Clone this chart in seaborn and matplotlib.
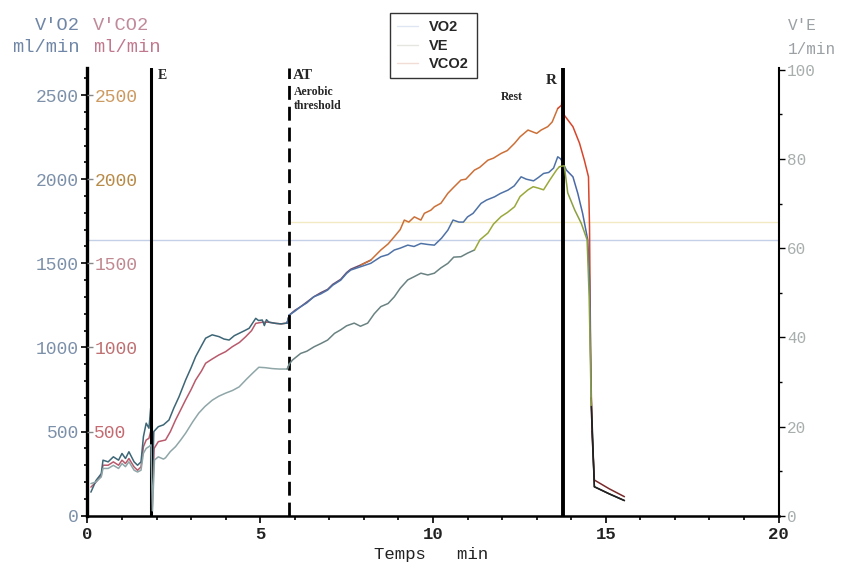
import numpy as np
import matplotlib
matplotlib.use("Agg")
import matplotlib.pyplot as plt
from matplotlib.lines import Line2D
from matplotlib.ticker import MultipleLocator
import seaborn as sns

sns.set_theme(style="white")
plt.rcParams['font.family'] = ['Liberation Mono', 'DejaVu Sans']

# ---- data ----
# time in minutes, VO2 / VCO2 in ml/min, VE in l/min
t_vo2 = [0.1, 0.25, 0.4, 0.45, 0.6, 0.75, 0.9, 1.0, 1.1, 1.2, 1.35, 1.45, 1.55, 1.62, 1.7, 1.78,
         1.83, 1.86, 1.92, 2.05, 2.2, 2.36, 2.5, 2.65, 2.84, 3.0, 3.13, 3.3, 3.42, 3.61, 3.81,
         3.95, 4.1, 4.25, 4.39, 4.55, 4.68, 4.87, 4.95, 5.06, 5.12, 5.18, 5.25, 5.45, 5.6, 5.78,
         5.84, 6.0, 6.17, 6.35, 6.55, 6.75, 6.95, 7.1, 7.33, 7.5, 7.62, 7.91, 8.2, 8.49, 8.7,
         8.88, 9.05, 9.27, 9.45, 9.65, 9.85, 10.04, 10.25, 10.43, 10.58, 10.75, 10.88, 11.0,
         11.16, 11.39, 11.55, 11.78, 11.95, 12.17, 12.35, 12.55, 12.7, 12.91, 13.05, 13.2,
         13.35, 13.49, 13.61, 13.7, 13.86, 14.05, 14.19, 14.33, 14.48, 14.53, 14.58, 14.67,
         15.1, 15.54]
vo2 = [140, 210, 250, 330, 320, 350, 330, 370, 340, 380, 320, 300, 320, 470, 550, 520,
       640, 20, 500, 529, 540, 569, 640, 707, 806, 880, 945, 1010, 1055, 1075, 1064,
       1050, 1044, 1070, 1084, 1100, 1114, 1173, 1160, 1163, 1130, 1165, 1150, 1143, 1140, 1145,
       1192, 1215, 1242, 1265, 1301, 1318, 1341, 1370, 1400, 1440, 1460, 1480, 1500, 1539, 1552,
       1579, 1590, 1608, 1600, 1618, 1612, 1608, 1650, 1697, 1757, 1745, 1745, 1776,
       1797, 1856, 1876, 1895, 1915, 1935, 1960, 2014, 2000, 1990, 2010, 2034,
       2040, 2066, 2133, 2120, 2054, 2014, 1916, 1797, 1638, 1400, 700, 172,
       130, 90]

t_vco2 = [0.1, 0.25, 0.4, 0.45, 0.6, 0.75, 0.9, 1.0, 1.1, 1.2, 1.35, 1.45, 1.55, 1.62, 1.7, 1.78,
          1.83, 1.87, 1.93, 2.05, 2.26, 2.4, 2.55, 2.7, 2.84, 3.0, 3.13, 3.3, 3.42, 3.6, 3.8,
          4.0, 4.19, 4.4, 4.58, 4.75, 4.87, 5.06, 5.25, 5.45, 5.6, 5.78, 5.84, 6.0, 6.17, 6.35,
          6.55, 6.75, 6.95, 7.1, 7.33, 7.5, 7.62, 7.91, 8.2, 8.49, 8.7, 8.88, 9.05, 9.17, 9.3,
          9.46, 9.65, 9.75, 9.94, 10.04, 10.23, 10.43, 10.6, 10.81, 10.95, 11.2, 11.35, 11.59,
          11.75, 11.97, 12.15, 12.36, 12.52, 12.75, 13.0, 13.13, 13.32, 13.45, 13.61, 13.72,
          13.76, 13.8, 14.05, 14.24, 14.38, 14.5, 14.53, 14.56, 14.6, 14.67, 15.1, 15.54]
vco2 = [170, 200, 240, 300, 300, 320, 300, 330, 310, 340, 290, 270, 290, 410, 450, 460,
        500, 0, 400, 440, 450, 500, 569, 630, 688, 750, 806, 860, 906, 930, 955,
        975, 1004, 1030, 1064, 1100, 1143, 1150, 1150, 1143, 1140, 1145, 1192, 1220, 1242, 1270,
        1301, 1325, 1345, 1375, 1405, 1445, 1465, 1490, 1519, 1579, 1615, 1658, 1700, 1757, 1745,
        1776, 1757, 1797, 1816, 1836, 1857, 1916, 1952, 1995, 2000, 2054, 2070, 2113,
        2125, 2153, 2170, 2213, 2252, 2292, 2272, 2292, 2312, 2340, 2420, 2440,
        2590, 2380, 2312, 2214, 2113, 2014, 1717, 1000, 500, 212, 160, 113]

t_ve = [0.1, 0.25, 0.4, 0.45, 0.6, 0.75, 0.9, 1.0, 1.1, 1.2, 1.35, 1.45, 1.55, 1.62, 1.7, 1.78,
        1.84, 1.88, 1.94, 2.05, 2.2, 2.26, 2.4, 2.55, 2.7, 2.84, 3.05, 3.22, 3.4, 3.61, 3.8,
        4.0, 4.2, 4.39, 4.6, 4.77, 4.96, 5.15, 5.35, 5.55, 5.78, 5.84, 5.93, 6.17, 6.35, 6.56,
        6.75, 6.95, 7.15, 7.33, 7.5, 7.72, 7.9, 8.11, 8.3, 8.49, 8.7, 8.88, 9.05, 9.27, 9.45,
        9.65, 9.85, 10.04, 10.23, 10.43, 10.6, 10.81, 11.0, 11.2, 11.36, 11.59, 11.75, 11.97,
        12.15, 12.36, 12.52, 12.75, 12.9, 13.04, 13.2, 13.38, 13.58, 13.66, 13.8, 13.9, 14.1,
        14.29, 14.46, 14.52, 14.58, 14.67, 15.1, 15.54]
ve = [7.2, 7.6, 8.7, 10.6, 10.6, 11.3, 10.6, 11.7, 11.0, 12.1, 10.2, 9.8, 10.2, 14.0, 15.1, 15.5,
      15.9, 1.1, 12.5, 13.2, 12.7, 13.0, 14.4, 15.5, 17.0, 18.5, 21.1, 23.0, 24.5, 25.9, 26.8,
      27.5, 28.1, 28.9, 30.6, 31.9, 33.3, 33.2, 33.0, 32.9, 32.9, 34.0, 34.9, 36.4, 36.9, 37.9,
      38.6, 39.4, 40.9, 41.7, 42.6, 43.2, 42.5, 43.2, 45.3, 46.9, 47.6, 49.1, 51.0, 52.9, 53.6,
      54.4, 54.0, 54.4, 55.6, 56.6, 58.0, 58.1, 58.9, 59.6, 61.9, 63.4, 65.4, 67.1,
      68.0, 69.3, 71.6, 73.1, 73.8, 73.5, 73.1, 75.3, 77.6, 78.3, 78.5, 72.4, 68.6,
      65.6, 61.9, 49.1, 24.5, 6.5, 4.9, 3.4]

# event markers (min)
t_E, t_AT, t_R = 1.84, 5.84, 13.77
# reference lines (ml/min)
ref_blue, ref_yellow = 1638, 1745

# colour of each series changes along the test
vo2_cuts = [0, t_AT, t_R, 14.62, 16]
vo2_cols = ['#3d6676', '#4f72a6', '#4a68a8', '#222222']
vco2_cuts = [0, t_AT, 8.2, 13.7, 14.62, 16]
vco2_cols = ['#b85a6c', '#6e4c6c', '#cc7038', '#d8452a', '#7a2a2a']
ve_cuts = [0, t_AT, 11.3, t_R, 14.62, 16]
ve_cols = ['#8fa6a8', '#6a8282', '#9aa83a', '#8aa040', '#222222']


def draw_phases(ax, t, v, cuts, cols, lw=1.1):
    t = np.asarray(t)
    v = np.asarray(v)
    for lo, hi, c in zip(cuts[:-1], cuts[1:], cols):
        idx = np.where((t >= lo) & (t <= hi))[0]
        if len(idx) == 0:
            continue
        # join with previous point so the line stays continuous
        if idx[0] > 0:
            idx = np.r_[idx[0] - 1, idx]
        sns.lineplot(x=t[idx], y=v[idx], color=c, lw=lw, ax=ax,
                     estimator=None, sort=False)


W, H = 849, 563
fig = plt.figure(figsize=(W / 100, H / 100), dpi=100)
ax = fig.add_axes([0.103, 0.084, 0.814, 0.795])
ax_c = ax.twinx()
ax_ve = ax.twinx()

ax.set_xlim(0, 20)
ax.set_ylim(0, 2660)
ax_c.set_ylim(0, 2660)
ax_ve.set_ylim(0, 100.4)

# faint reference lines
ax.axhline(ref_blue, color='#c3d0e6', lw=1.0, zorder=1)
ax.axhline(ref_yellow, xmin=0.29, color='#f2eac2', lw=1.0, zorder=1)

draw_phases(ax_ve, t_ve, ve, ve_cuts, ve_cols)
draw_phases(ax, t_vco2, vco2, vco2_cuts, vco2_cols)
draw_phases(ax, t_vo2, vo2, vo2_cuts, vo2_cols)

# event lines
ax.axvline(t_E, color='black', lw=2.2, zorder=5)
ax.axvline(t_AT, color='black', lw=2.0, ls=(0, (5, 2.5)), zorder=5)
ax.axvline(t_R, color='black', lw=2.8, zorder=5)

ax.text(2.05, 2615, 'E', family='Liberation Serif', weight='bold', fontsize=10, va='center')
ax.text(5.95, 2615, 'AT', family='Liberation Serif', weight='bold', fontsize=11, va='center')
ax.text(5.98, 2555, 'Aerobic\nthreshold', family='Liberation Serif', weight='bold',
        fontsize=8.5, va='top', linespacing=1.25)
ax.text(11.95, 2490, 'Rest', family='Liberation Serif', weight='bold', fontsize=8.5, va='center')
ax.text(13.57, 2585, 'R', family='Liberation Serif', weight='bold', fontsize=11,
        va='center', ha='right')

# spines
for a in (ax, ax_c, ax_ve):
    a.spines['top'].set_visible(False)
    a.grid(False)
ax.spines['right'].set_visible(False)
ax.spines['left'].set_linewidth(2.4)
ax.spines['bottom'].set_linewidth(1.8)
for s in ('left', 'right', 'bottom'):
    ax_c.spines[s].set_visible(False)
for s in ('left', 'bottom'):
    ax_ve.spines[s].set_visible(False)
ax_ve.spines['right'].set_linewidth(1.5)
for s in ('left', 'bottom', 'right'):
    ax.spines[s].set_color('black')
ax_ve.spines['right'].set_color('black')

# x axis
ax.xaxis.set_minor_locator(MultipleLocator(1))
ax.tick_params(axis='x', which='both', direction='out', bottom=True, colors='black',
               labelcolor='#222222', labelsize=12.5, width=1.2, pad=3)
ax.tick_params(axis='x', which='major', length=5)
ax.tick_params(axis='x', which='minor', length=3)
ax.set_xticks([0, 5, 10, 15, 20])
ax.set_xticklabels(['0', '5', '10', '15', '20'], weight='bold')
ax.set_xlabel('')
fig.text(431 / W, 1 - 554 / H, 'Temps   min', ha='center', va='center', fontsize=12.5,
         color='#222222')

# left axis: V'O2 labels outside the spine
ax.set_yticks([0, 500, 1000, 1500, 2000, 2500])
ax.yaxis.set_minor_locator(MultipleLocator(100))
ax.tick_params(axis='y', which='both', left=True, direction='out', colors='black',
               labelcolor='#7c90aa', labelsize=13, width=1.2, pad=2)
ax.tick_params(axis='y', which='major', length=4)
ax.tick_params(axis='y', which='minor', length=2)

# V'CO2 labels just inside the spine
vco2_ticks = [500, 1000, 1500, 2000, 2500]
vco2_tick_cols = ['#c46a70', '#be7072', '#c08890', '#b88a48', '#cc9a60']
ax_c.spines['right'].set_position(('axes', 0))
ax_c.set_yticks(vco2_ticks)
ax_c.set_yticklabels([str(v) for v in vco2_ticks])
ax_c.tick_params(axis='y', right=True, direction='out', length=4, width=1.0,
                 colors='#888888', labelsize=13, pad=1)
for lab, c in zip(ax_c.get_yticklabels(), vco2_tick_cols):
    lab.set_color(c)

# right axis: V'E
ax_ve.set_yticks([0, 20, 40, 60, 80, 100])
ax_ve.yaxis.set_minor_locator(MultipleLocator(10))
ax_ve.tick_params(axis='y', which='both', right=True, direction='out', colors='black',
                  labelcolor='#a8aeae', labelsize=11.5, width=1.0, pad=2)
ax_ve.tick_params(axis='y', which='major', length=4)
ax_ve.tick_params(axis='y', which='minor', length=2)
ax_ve.set_ylabel('')
ax.set_ylabel('')
ax_c.set_ylabel('')

# axis titles
fig.text(80 / W, 1 - 25 / H, "V'O2", ha='right', va='center', fontsize=13.5, color='#6f86a6')
fig.text(80 / W, 1 - 47 / H, "ml/min", ha='right', va='center', fontsize=13.5, color='#6f86a6')
fig.text(93 / W, 1 - 25 / H, "V'CO2", ha='left', va='center', fontsize=13.5, color='#c08a9a')
fig.text(93 / W, 1 - 47 / H, "ml/min", ha='left', va='center', fontsize=13.5, color='#c0788e')
fig.text(788 / W, 1 - 26 / H, "V'E", ha='left', va='center', fontsize=11.5, color='#9aa0a4')
fig.text(788 / W, 1 - 49 / H, "1/min", ha='left', va='center', fontsize=11.5, color='#9aa0a4')

# legend box
handles = [Line2D([], [], color='#dde6f2', lw=1.0),
           Line2D([], [], color='#e6e6e0', lw=1.0),
           Line2D([], [], color='#f2dcd6', lw=1.0)]
leg = fig.legend(handles, ['VO2', 'VE', 'VCO2'], loc='upper left',
                 bbox_to_anchor=(390 / W, 1 - 13 / H), borderaxespad=0, frameon=True,
                 fancybox=False, framealpha=1, edgecolor='#333333', handlelength=1.4,
                 handletextpad=0.8, borderpad=0.5, labelspacing=0.3,
                 prop={'family': 'Liberation Sans', 'weight': 'bold', 'size': 10.5})
leg.get_frame().set_linewidth(1.0)

fig.savefig('out.png', dpi=100)
